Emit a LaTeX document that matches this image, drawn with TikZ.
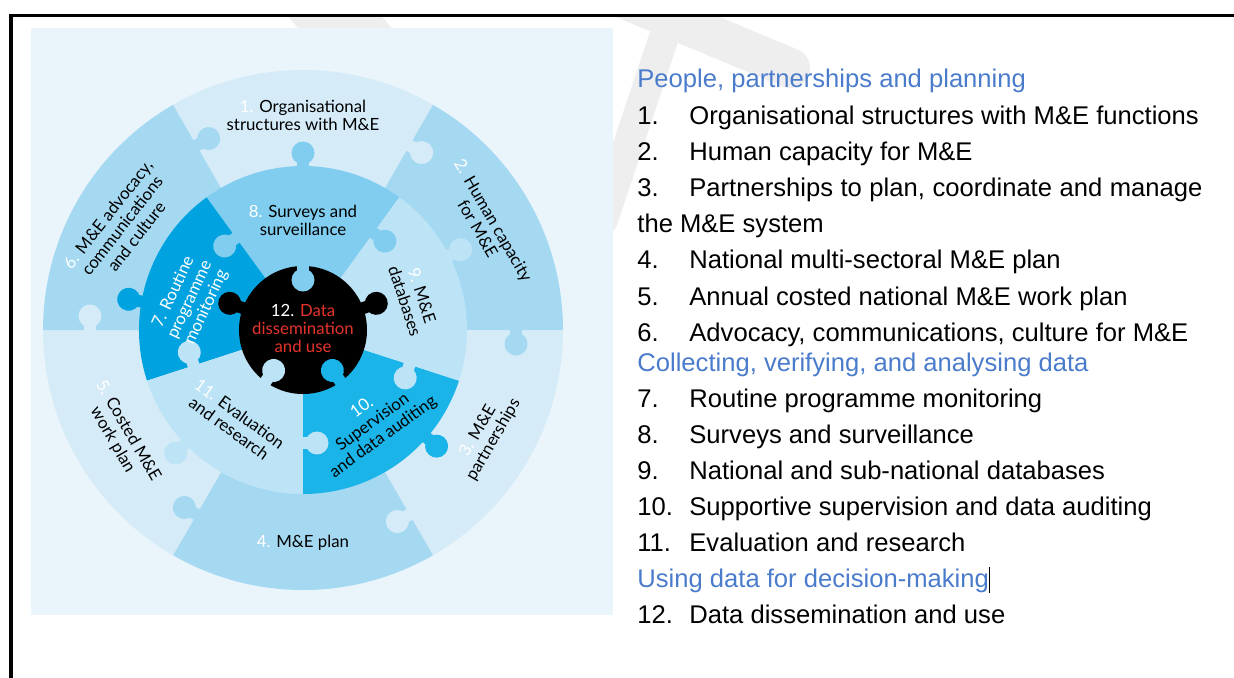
\documentclass[tikz,border=0pt]{standalone}
\usepackage{fontspec}
\setmainfont{Liberation Sans}
\newfontfamily\wheelfont{Lato}
\usepackage{xcolor}
\usepackage{tikz}
\usetikzlibrary{positioning}

\definecolor{panelbg}{HTML}{E9F4FB}
\definecolor{ringlight}{HTML}{D5EBF8}
\definecolor{ringmid}{HTML}{A5D9F2}
\definecolor{survey}{HTML}{80CDEF}
\definecolor{routine}{HTML}{00A3DF}
\definecolor{innerlight}{HTML}{BDE3F6}
\definecolor{superv}{HTML}{1BB4E8}
\definecolor{datared}{HTML}{E3342C}
\definecolor{headblue}{HTML}{4A7CCB}
\definecolor{wmgrey}{HTML}{EEEEEE}

\newcommand{\wnum}[1]{\textcolor{white}{#1}}

\begin{document}
\begin{tikzpicture}[x=0.5pt, y=0.5pt,
    wlabel/.style={font=\wheelfont\fontsize{8.4}{9}\selectfont, align=center, inner sep=0pt},
    listtext/.style={font=\fontsize{12.8}{15}\selectfont, anchor=base west, inner sep=0pt},
    heading/.style={listtext, text=headblue}]
    \useasboundingbox (-303,-347) rectangle (931,330);

    % faint watermark, mostly hidden by the panel
    \begin{scope}
        \clip (-292,-347) rectangle (931,313);
        \draw[wmgrey, line width=20pt, line cap=round] (300,340) -- (487,262);
        \draw[wmgrey, line width=15pt, line cap=round] (360,290) -- (300,110);
        \draw[wmgrey, line width=36pt, line cap=round] (10,340) -- (60,280);
    \end{scope}

    % panel and frame
    \fill[panelbg] (-272,-285) rectangle (310,302);
    \draw[line width=1.8pt] (931,314.5) -- (-292,314.5) -- (-292,-350);

    % outer ring: people, partnerships and planning
    \foreach \a/\b/\col in {60/120/ringlight, 0/60/ringmid, -60/0/ringlight,
                            -120/-60/ringmid, 180/240/ringlight, 120/180/ringmid}
        \fill[\col] (\a:162) arc (\a:\b:162) -- (\b:260) arc (\b:\a:260) -- cycle;

    % middle ring: collecting, verifying and analysing data
    \foreach \a/\b/\col in {54/126/survey, 126/198/routine, 198/270/innerlight,
                            270/342/superv, -18/54/innerlight}
        \fill[\col] (\a:63) arc (\a:\b:63) -- (\b:164) arc (\b:\a:164) -- cycle;

    % centre piece
    \fill[black] (0,0) circle (64);

    % puzzle knobs: base angle / base radius / direction / colour
    \foreach \a/\r/\d/\col in {120/213/30/ringmid, 60/213/-30/ringlight, 0/213/-90/ringmid,
                               -60/213/-150/ringlight, -120/213/150/ringmid, 180/213/90/ringlight,
                               90/163/90/survey, 170/163/170/routine, 27/163/27/innerlight,
                               -41/163/-41/superv, 224/163/224/innerlight,
                               126/114/216/survey, 54/120/-36/survey, 198/115/108/innerlight,
                               270/113/0/innerlight, -18/112/-108/innerlight,
                               90/64/270/survey, 234/64/54/innerlight, 306/64/126/superv,
                               160/64/160/black, 20/64/20/black} {
        \begin{scope}[shift={(\a:\r)}, rotate=\d]
            \fill[\col] (-2,-6) rectangle (9,6);
            \fill[\col] (14,0) circle (11.5);
        \end{scope}
    }

    % labels on the wheel
    \node[wlabel] (lab1) at (90:215) {\wnum{1.} Organisational\\structures with M\&E};
    \node[wlabel, rotate=-60] (lab2) at (30:211) {\wnum{2.} Human capacity\\for M\&E};
    \node[wlabel, rotate=60] (lab3) at (-30:211) {\wnum{3.} M\&E\\partnerships};
    \node[wlabel] (lab4) at (-90:213) {\wnum{4.} M\&E plan};
    \node[wlabel, rotate=-60] (lab5) at (210:211) {\wnum{5.} Costed M\&E\\work plan};
    \node[wlabel, rotate=52] (lab6) at (150:209) {\wnum{6.} M\&E advocacy,\\communications\\and culture};
    \node[wlabel, text=white, rotate=65] (lab7) at (165:117) {7. Routine\\programme\\monitoring};
    \node[wlabel] (lab8) at (90:110) {\wnum{8.} Surveys and\\surveillance};
    \node[wlabel, rotate=-72] (lab9) at (16:115) {\wnum{9.} M\&E\\databases};
    \node[wlabel, rotate=36] (lab10) at (-53:116) {\wnum{10.}\\Supervision\\and data auditing};
    \node[wlabel, rotate=-36] (lab11) at (233:114) {\wnum{11.} Evaluation\\and research};
    \node[wlabel, text=datared] (lab12) at (0,2) {\wnum{12.} Data\\dissemination\\and use};

    % list of the twelve components
    \node[heading] (head1) at (334,243) {People, partnerships and planning};
    \foreach \n/\txt/\yy in {1/Organisational structures with M\&E functions/206,
                             2/Human capacity for M\&E/170,
                             4/National multi-sectoral M\&E plan/62,
                             5/Annual costed national M\&E work plan/25,
                             6/{Advocacy, communications, culture for M\&E}/-11,
                             7/Routine programme monitoring/-77,
                             8/Surveys and surveillance/-113,
                             9/National and sub-national databases/-149,
                             10/Supportive supervision and data auditing/-185,
                             11/Evaluation and research/-221,
                             12/Data dissemination and use/-293} {
        \node[listtext] (num\n) at (334,\yy) {\n.};
        \node[listtext] (item\n) at (386,\yy) {\txt};
    }
    \node[listtext] (num3) at (334,134) {3.};
    \node[listtext] (item3) at (386,134) {\makebox[256.5pt][s]{Partnerships to plan, coordinate and manage}};
    \node[listtext] (item3b) at (334,98) {the M\&E system};
    \node[heading] (head2) at (334,-41) {Collecting, verifying, and analysing data};
    \node[heading] (head3) at (334,-257) {Using data for decision-making\textcolor{black}{\rule[-3pt]{0.5pt}{13pt}}};
\end{tikzpicture}
\end{document}
